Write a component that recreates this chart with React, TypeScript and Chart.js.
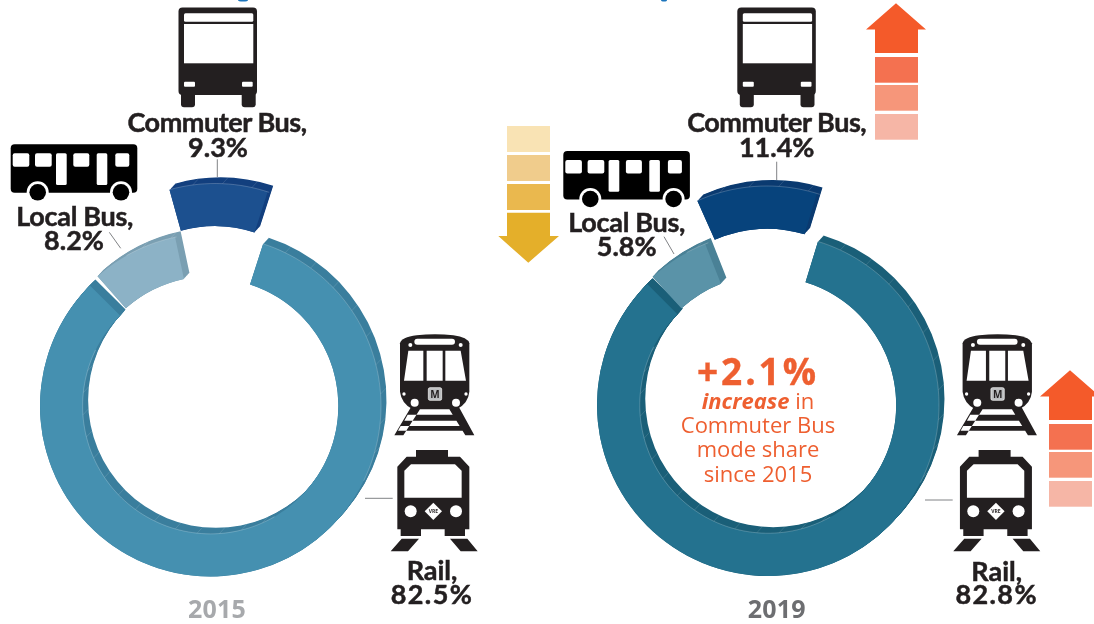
import React, { useEffect, useRef } from "react";
import { Chart, registerables } from "chart.js";

Chart.register(...registerables);

const categories = ["Rail", "Local Bus", "Commuter Bus"];
const share2015 = [82.5, 8.2, 9.3];
const share2019 = [82.8, 5.8, 11.4];
const front2015 = ["#4590B0", "#8CB2C6", "#1C508F"];
const wall2015 = ["#3A7E9D", "#7A9FB2", "#123F7E"];
const front2019 = ["#24728F", "#5A93A8", "#07437C"];
const wall2019 = ["#1A5F78", "#4A8196", "#0A3A70"];

const BLACK = "#231F20";
const ORANGE = "#EE5F30";
const FONT = "'Open Sans', 'Noto Sans', sans-serif";
const LABEL_FONT = "Lato, 'Open Sans', sans-serif";
const WALL = { x: 5.5, y: -6 };

type Nudge = { turn: number; x: number; y: number };

const arcPath = (ctx: CanvasRenderingContext2D, a: any, dx = 0, dy = 0) => {
  ctx.beginPath();
  ctx.arc(a.x + dx, a.y + dy, a.outerRadius, a.startAngle, a.endAngle);
  ctx.arc(a.x + dx, a.y + dy, a.innerRadius, a.endAngle, a.startAngle, true);
  ctx.closePath();
};

const sculpt = (nudges: Nudge[], walls: string[]) => ({
  id: "sculpt",
  afterDatasetsUpdate(chart: any) {
    chart.getDatasetMeta(0).data.forEach((a: any, i: number) => {
      const n = nudges[i];
      const t = (n.turn * Math.PI) / 180;
      a.startAngle += t;
      a.endAngle += t;
      a.x += n.x;
      a.y += n.y;
    });
  },
  beforeDatasetsDraw(chart: any) {
    const ctx = chart.ctx as CanvasRenderingContext2D;
    chart.getDatasetMeta(0).data.forEach((a: any, i: number) => {
      ctx.save();
      ctx.fillStyle = walls[i];
      for (let s = 0; s <= 8; s++) {
        arcPath(ctx, a, (WALL.x * s) / 8, (WALL.y * s) / 8);
        ctx.fill();
      }
      ctx.restore();
    });
  },
  afterDatasetsDraw(chart: any) {
    const ctx = chart.ctx as CanvasRenderingContext2D;
    const phi = Math.atan2(WALL.y, WALL.x);
    chart.getDatasetMeta(0).data.forEach((a: any) => {
      ctx.save();
      ctx.lineWidth = 0.6;
      const step = Math.PI / 90;
      let count = 0;
      for (let t = a.startAngle; t < a.endAngle - 1e-6; t += step) {
        const d = Math.cos(t - phi);
        const r = d > 0.3 ? a.outerRadius : d < -0.3 ? a.innerRadius : 0;
        count++;
        if (!r) continue;
        const x0 = a.x + r * Math.cos(t);
        const y0 = a.y + r * Math.sin(t);
        ctx.strokeStyle = "rgba(255,255,255,0.35)";
        ctx.beginPath();
        ctx.moveTo(x0, y0);
        ctx.lineTo(a.x + r * Math.cos(t + step), a.y + r * Math.sin(t + step));
        ctx.stroke();
        if (count % 5 === 0) {
          ctx.strokeStyle = "rgba(255,255,255,0.2)";
          ctx.beginPath();
          ctx.moveTo(x0, y0);
          ctx.lineTo(x0 + WALL.x, y0 + WALL.y);
          ctx.stroke();
        }
      }
      ctx.restore();
    });
  },
});

function Donut({ values, front, walls, rotation, nudges, left, padding }: any) {
  const ref = useRef<HTMLCanvasElement>(null);
  useEffect(() => {
    const chart = new Chart(ref.current as HTMLCanvasElement, {
      type: "doughnut",
      data: {
        labels: categories,
        datasets: [{ data: values, backgroundColor: front, borderWidth: 0, clip: false } as any],
      },
      options: {
        animation: false,
        responsive: false,
        rotation,
        cutout: "75%",
        layout: { padding },
        plugins: { legend: { display: false }, tooltip: { enabled: false } },
      },
      plugins: [sculpt(nudges, walls)],
    });
    return () => chart.destroy();
  }, []);
  return (
    <canvas
      ref={ref}
      width={547}
      height={624}
      style={{ position: "absolute", left, top: 0, width: 547, height: 624 }}
    />
  );
}

const Label = ({ x, y, size = 27, fill = BLACK, weight = 700, spacing = 0, bold = 0.5, font = LABEL_FONT, children }: any) => (
  <text
    x={x}
    y={y}
    textAnchor="middle"
    fontFamily={font}
    fontSize={size}
    fontWeight={weight}
    fill={fill}
    stroke={fill}
    strokeWidth={bold}
    letterSpacing={spacing}
  >
    {children}
  </text>
);

const Leader = ({ x1, y1, x2, y2 }: any) => (
  <line x1={x1} y1={y1} x2={x2} y2={y2} stroke="#808285" strokeWidth={1} />
);

const FrontBus = ({ x, y }: any) => (
  <g transform={`translate(${x} ${y})`}>
    <rect x={178.5} y={7.5} width={78.5} height={87.5} rx={4} fill={BLACK} />
    <rect x={181} y={90} width={14} height={17.3} rx={3} fill={BLACK} />
    <rect x={241.7} y={90} width={14} height={17.3} rx={3} fill={BLACK} />
    <rect x={184} y={13.3} width={69.3} height={8.4} rx={1.5} fill="#fff" />
    <rect x={184} y={24} width={69.3} height={39.3} fill="#fff" />
    <rect x={184} y={81.7} width={11} height={5} rx={1} fill="#fff" />
    <rect x={242} y={81.7} width={10.7} height={5} rx={1} fill="#fff" />
  </g>
);

const SideBus = ({ x, y }: any) => (
  <g transform={`translate(${x} ${y})`}>
    <rect x={10.7} y={144.3} width={126.6} height={48.4} rx={4} fill="#000" />
    {[12.7, 35, 73.3, 115.3].map((wx, i) => (
      <rect key={i} x={wx} y={153.3} width={[16.6, 16.7, 16, 14][i]} height={13.4} rx={2} fill="#fff" />
    ))}
    <rect x={56} y={153.3} width={10.7} height={31.7} rx={1.5} fill="#fff" />
    <rect x={96.7} y={153.3} width={10.6} height={31.7} rx={1.5} fill="#fff" />
    {[37.7, 121].map((cx) => (
      <g key={cx}>
        <circle cx={cx} cy={192.3} r={11} fill="#fff" />
        <circle cx={cx} cy={192.3} r={8.3} fill="#000" />
      </g>
    ))}
  </g>
);

const Trains = ({ x, y }: any) => (
  <g transform={`translate(${x} ${y}) scale(${1 / 3})`}>
    <path d="M215 258L163 346H190L240 268ZM355 258L403 346H376L328 268ZM203 284H366L376 302H193ZM182 318H386L394 332H174Z" fill={BLACK} />
    <path d="M180 70Q184 52 230 46Q285 40 340 46Q384 52 388 70V215Q385 250 350 268H218Q184 250 180 215Z" fill={BLACK} />
    <rect x={223} y={56} width={122} height={18} rx={9} fill="#fff" />
    <path d="M205 92H250V182H192ZM260 92H308V182H260ZM316 92H362L378 182H316Z" fill="#fff" />
    <circle cx={211} cy={75} r={6} fill="#fff" />
    <circle cx={362} cy={75} r={6} fill="#fff" />
    <circle cx={192} cy={222} r={5} fill="#fff" />
    <circle cx={378} cy={222} r={5} fill="#fff" />
    <circle cx={224} cy={248} r={12} fill="#fff" />
    <circle cx={348} cy={248} r={12} fill="#fff" />
    <rect x={265} y={203} width={40} height={38} rx={5} fill="#BCBEC0" stroke="#fff" strokeWidth={2} />
    <text x={285} y={233} textAnchor="middle" fontFamily={FONT} fontWeight={700} fontSize={30} fill={BLACK}>M</text>
    <path d="M228 390H324V410H360L388 440V628H375V648H314V628H243V648H182V628H172V440L200 410H228Z" fill={BLACK} />
    <path d="M193 452L213 433H345L365 452V533H193Z" fill="#fff" />
    <circle cx={212} cy={574} r={18} fill="#fff" />
    <circle cx={348} cy={574} r={18} fill="#fff" />
    <path d="M280 548L306 574L280 600L254 574Z" fill="#fff" />
    <text x={280} y={580} textAnchor="middle" fontFamily={FONT} fontWeight={700} fontSize={15} fill={BLACK}>VRE</text>
    <path d="M185 656H237L204 694H152ZM330 656H382L413 694H362Z" fill={BLACK} />
  </g>
);

const UpArrow = ({ dx, dy }: any) => (
  <g transform={`translate(${dx} ${dy})`}>
    <path d="M896 3.3L926 29.5H918V53H875V29.5H866Z" fill="#F45A2A" />
    <rect x={875} y={57} width={43} height={25.7} fill="#F47150" />
    <rect x={875} y={85} width={43} height={25.7} fill="#F6967A" />
    <rect x={875} y={114} width={43} height={25.7} fill="#F6B6A6" />
  </g>
);

export default function App() {
  return (
    <div style={{ position: "fixed", left: 0, top: 0, width: 1094, height: 624, overflow: "hidden", background: "#fff" }}>
      <Donut
        values={share2015}
        front={front2015}
        walls={wall2015}
        rotation={18}
        left={0}
        padding={{ left: 40, right: 166, top: 235.5, bottom: 47.5 }}
        nudges={[
          { turn: 0, x: 0, y: 0 },
          { turn: 3.5, x: 0, y: -2 },
          { turn: 0, x: 4.5, y: -52 },
        ]}
      />
      <Donut
        values={share2019}
        front={front2019}
        walls={wall2019}
        rotation={17}
        left={547}
        padding={{ left: 50, right: 155, top: 234, bottom: 48 }}
        nudges={[
          { turn: 0, x: 0, y: 0 },
          { turn: 2.5, x: 0, y: -2 },
          { turn: 0, x: -1, y: -48 },
        ]}
      />
      <svg width={1094} height={624} style={{ position: "absolute", left: 0, top: 0 }}>
        <ellipse cx={243} cy={0} rx={5} ry={1.5} fill="#1C75BC" />
        <ellipse cx={664} cy={0} rx={3} ry={1.5} fill="#1C75BC" />

        <FrontBus x={0} y={0} />
        <FrontBus x={558.8} y={0} />
        <SideBus x={0} y={0} />
        <SideBus x={552.6} y={6.7} />
        <Trains x={340} y={320} />
        <Trains x={902.6} y={320} />

        <Leader x1={217.3} y1={159.3} x2={217.3} y2={177} />
        <Leader x1={109.3} y1={232.3} x2={120.7} y2={248.3} />
        <Leader x1={365} y1={498.3} x2={392.7} y2={498.3} />
        <Leader x1={776.7} y1={161.7} x2={776.7} y2={180} />
        <Leader x1={664} y1={236.7} x2={674} y2={254} />
        <Leader x1={925} y1={500} x2={952.7} y2={500} />

        <Label x={217} y={131.7} spacing={-0.45}>Commuter Bus,</Label>
        <Label x={218} y={156.7}>9.3%</Label>
        <Label x={74.7} y={225.7} spacing={-0.3}>Local Bus,</Label>
        <Label x={74} y={250}>8.2%</Label>
        <Label x={432} y={580}>Rail,</Label>
        <Label x={432} y={604} spacing={1.4}>82.5%</Label>
        <Label x={217} y={618} size={25} fill="#A7A9AC" spacing={0.2} bold={0} font={FONT}>2015</Label>

        <Label x={776.7} y={131.7} spacing={-0.45}>Commuter Bus,</Label>
        <Label x={776.7} y={156.7}>11.4%</Label>
        <Label x={626.7} y={231.7} spacing={-0.3}>Local Bus,</Label>
        <Label x={626.7} y={256}>5.8%</Label>
        <Label x={996.7} y={581}>Rail,</Label>
        <Label x={996.7} y={604} spacing={1.4}>82.8%</Label>
        <Label x={776.7} y={617.5} size={25} fill="#6D6E71" spacing={0.2} bold={0} font={FONT}>2019</Label>

        <Label x={758} y={385} size={37} fill={ORANGE} spacing={2.9} bold={0.35} font={FONT}>+2.1%</Label>
        <Label x={758} y={409} size={22} fill={ORANGE} weight={400} bold={0} font={FONT}>
          <tspan fontWeight={700} fontStyle="italic">increase</tspan> in
        </Label>
        <Label x={758} y={433.3} size={22} fill={ORANGE} weight={400} bold={0} font={FONT}>Commuter Bus</Label>
        <Label x={758} y={457} size={22} fill={ORANGE} weight={400} bold={0} font={FONT}>mode share</Label>
        <Label x={758} y={481.7} size={22} fill={ORANGE} weight={400} bold={0} font={FONT}>since 2015</Label>

        <rect x={507} y={126} width={43} height={26} fill="#F9E3B4" />
        <rect x={507} y={155} width={43} height={26} fill="#F0CC8C" />
        <rect x={507} y={184} width={43} height={26} fill="#EAB84E" />
        <path d="M507 212.7H550V236H559L528.3 262.7L498.3 236H507Z" fill="#E4AF2A" />

        <UpArrow dx={0} dy={0} />
        <UpArrow dx={174} dy={367} />
      </svg>
    </div>
  );
}
